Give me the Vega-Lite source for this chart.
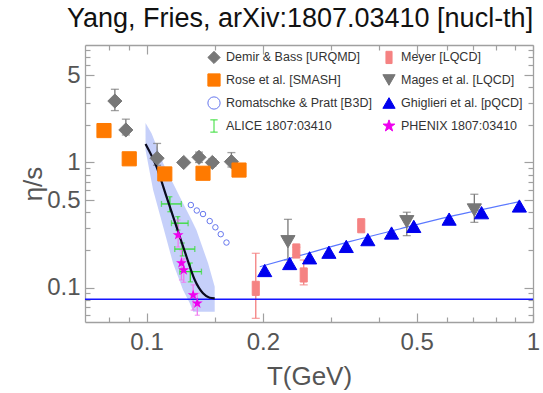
{
  "$schema": "https://vega.github.io/schema/vega-lite/v6.json",
  "width": 448,
  "height": 277,
  "autosize": "none",
  "padding": {"left": 85, "top": 45, "right": 10, "bottom": 71},
  "title": {"text": "Yang, Fries, arXiv:1807.03410 [nucl-th]", "fontSize": 27, "font": "Liberation Sans", "fontWeight": "normal", "color": "#111", "offset": 11, "anchor": "middle", "frame": "group", "dx": -9},
  "config": {
    "font": "Liberation Sans",
    "view": {"stroke": null},
    "axis": {"grid": false, "domainColor": "#A0A0A0", "tickColor": "#A0A0A0", "domainWidth": 1.3, "tickWidth": 1.2, "labelColor": "#555", "titleColor": "#555", "labelFontSize": 24, "titleFontSize": 26, "titleFontWeight": "normal", "labelFont": "Liberation Sans", "titleFont": "Liberation Sans", "labelFlush": false, "labelOverlap": false},
    "legend": {"orient": "none", "legendX": 122, "legendY": 5, "columns": 2, "labelFont": "Liberation Sans", "labelFontSize": 12.5, "labelColor": "#333", "rowPadding": 5, "columnPadding": 8, "symbolStrokeWidth": 1, "labelOffset": 5, "symbolSize": 150}
  },
  "datasets": {
    "pts": [
      {"series": "Demir & Bass [URQMD]", "T": 0.0828, "v": 3.1, "lo": 2.6, "hi": 3.85},
      {"series": "Demir & Bass [URQMD]", "T": 0.0884, "v": 1.82, "lo": 1.66, "hi": 2.22},
      {"series": "Demir & Bass [URQMD]", "T": 0.1065, "v": 1.08, "lo": 0.95, "hi": 1.42},
      {"series": "Demir & Bass [URQMD]", "T": 0.1248, "v": 1.0},
      {"series": "Demir & Bass [URQMD]", "T": 0.1367, "v": 1.1, "lo": 1.0, "hi": 1.21},
      {"series": "Demir & Bass [URQMD]", "T": 0.148, "v": 1.0, "lo": 0.93, "hi": 1.07},
      {"series": "Demir & Bass [URQMD]", "T": 0.1658, "v": 1.015, "lo": 0.92, "hi": 1.2},
      {"series": "Rose et al. [SMASH]", "T": 0.0776, "v": 1.8},
      {"series": "Rose et al. [SMASH]", "T": 0.0902, "v": 1.07},
      {"series": "Rose et al. [SMASH]", "T": 0.1115, "v": 0.81},
      {"series": "Rose et al. [SMASH]", "T": 0.14, "v": 0.82},
      {"series": "Rose et al. [SMASH]", "T": 0.1735, "v": 0.87},
      {"series": "Romatschke & Pratt [B3D]", "T": 0.1302, "v": 0.457},
      {"series": "Romatschke & Pratt [B3D]", "T": 0.1349, "v": 0.413},
      {"series": "Romatschke & Pratt [B3D]", "T": 0.14, "v": 0.387},
      {"series": "Romatschke & Pratt [B3D]", "T": 0.1457, "v": 0.34},
      {"series": "Romatschke & Pratt [B3D]", "T": 0.1507, "v": 0.303},
      {"series": "Romatschke & Pratt [B3D]", "T": 0.1556, "v": 0.267},
      {"series": "Romatschke & Pratt [B3D]", "T": 0.161, "v": 0.229},
      {"series": "ALICE 1807:03410", "T": 0.1149, "v": 0.466, "xlo": 0.1093, "xhi": 0.123, "lo": 0.404, "hi": 0.532},
      {"series": "ALICE 1807:03410", "T": 0.1205, "v": 0.327, "xlo": 0.116, "xhi": 0.1281, "lo": 0.288, "hi": 0.369},
      {"series": "ALICE 1807:03410", "T": 0.1237, "v": 0.203, "xlo": 0.1183, "xhi": 0.1333, "lo": 0.179, "hi": 0.227},
      {"series": "ALICE 1807:03410", "T": 0.1298, "v": 0.134, "xlo": 0.1219, "xhi": 0.1387, "lo": 0.111, "hi": 0.157},
      {"series": "PHENIX 1807:03410", "T": 0.1207, "v": 0.263, "lo": 0.211, "hi": 0.347},
      {"series": "PHENIX 1807:03410", "T": 0.1231, "v": 0.157, "lo": 0.115, "hi": 0.2},
      {"series": "PHENIX 1807:03410", "T": 0.1248, "v": 0.138, "lo": 0.11, "hi": 0.17},
      {"series": "PHENIX 1807:03410", "T": 0.132, "v": 0.087, "lo": 0.066, "hi": 0.105},
      {"series": "PHENIX 1807:03410", "T": 0.1353, "v": 0.0748, "lo": 0.06, "hi": 0.09},
      {"series": "Meyer [LQCD]", "T": 0.1917, "v": 0.0985, "lo": 0.0567, "hi": 0.1878},
      {"series": "Meyer [LQCD]", "T": 0.2441, "v": 0.196, "lo": 0.183, "hi": 0.21},
      {"series": "Meyer [LQCD]", "T": 0.2551, "v": 0.126, "lo": 0.105, "hi": 0.166},
      {"series": "Meyer [LQCD]", "T": 0.3594, "v": 0.312},
      {"series": "Mages et al. [LQCD]", "T": 0.2322, "v": 0.2325, "lo": 0.166, "hi": 0.351},
      {"series": "Mages et al. [LQCD]", "T": 0.4714, "v": 0.336, "lo": 0.26, "hi": 0.4},
      {"series": "Mages et al. [LQCD]", "T": 0.705, "v": 0.417, "lo": 0.332, "hi": 0.557},
      {"series": "Ghiglieri et al. [pQCD]", "T": 0.2022, "v": 0.1368},
      {"series": "Ghiglieri et al. [pQCD]", "T": 0.2346, "v": 0.1556},
      {"series": "Ghiglieri et al. [pQCD]", "T": 0.2642, "v": 0.1728},
      {"series": "Ghiglieri et al. [pQCD]", "T": 0.2964, "v": 0.1916},
      {"series": "Ghiglieri et al. [pQCD]", "T": 0.3287, "v": 0.2132},
      {"series": "Ghiglieri et al. [pQCD]", "T": 0.3738, "v": 0.2416},
      {"series": "Ghiglieri et al. [pQCD]", "T": 0.4305, "v": 0.2729},
      {"series": "Ghiglieri et al. [pQCD]", "T": 0.4915, "v": 0.3082},
      {"series": "Ghiglieri et al. [pQCD]", "T": 0.6067, "v": 0.3525},
      {"series": "Ghiglieri et al. [pQCD]", "T": 0.736, "v": 0.3967},
      {"series": "Ghiglieri et al. [pQCD]", "T": 0.922, "v": 0.4487}
    ],
    "fit": [
      {"T": 0.0994, "v": 1.406}, {"T": 0.1061, "v": 0.926}, {"T": 0.1126, "v": 0.533},
      {"T": 0.1195, "v": 0.3065}, {"T": 0.1269, "v": 0.1763}, {"T": 0.1333, "v": 0.1148},
      {"T": 0.14, "v": 0.0899}, {"T": 0.1457, "v": 0.0829}, {"T": 0.1501, "v": 0.082}
    ],
    "gline": [
      {"T": 0.1963, "v": 0.1467}, {"T": 0.2489, "v": 0.18}, {"T": 0.3352, "v": 0.2325},
      {"T": 0.4513, "v": 0.2938}, {"T": 0.6078, "v": 0.3686}, {"T": 0.922, "v": 0.486}
    ],
    "band": [
      {"T": 0.0994, "up": 2.07, "low": 1.259}, {"T": 0.103, "up": 1.712, "low": 0.703},
      {"T": 0.104, "up": 1.588, "low": 0.603}, {"T": 0.1104, "up": 0.985, "low": 0.3065},
      {"T": 0.1171, "up": 0.682, "low": 0.1562}, {"T": 0.1219, "up": 0.533, "low": 0.1123},
      {"T": 0.1243, "up": 0.4717, "low": 0.0955}, {"T": 0.1294, "up": 0.369, "low": 0.0747},
      {"T": 0.132, "up": 0.327, "low": 0.064}, {"T": 0.1346, "up": 0.2884, "low": 0.064},
      {"T": 0.1443, "up": 0.1562, "low": 0.064}, {"T": 0.1501, "up": 0.1015, "low": 0.064}
    ],
    "anchor": [{"T": 0.5, "v": 1}]
  },
  "resolve": {"axis": {"x": "independent", "y": "independent"}},
  "layer": [
    {
      "data": {"name": "band"},
      "mark": {"type": "area", "color": "#3355EE", "opacity": 0.28},
      "encoding": {
        "x": {"field": "T", "type": "quantitative", "scale": {"type": "log", "domain": [0.0693, 1.0], "nice": false},
          "axis": {"orient": "bottom", "title": "T(GeV)", "values": [0.1, 0.2, 0.5, 1], "format": "~g", "tickSize": -9, "labelPadding": 17, "titlePadding": 9}},
        "y": {"field": "up", "type": "quantitative", "scale": {"type": "log", "domain": [0.053, 8.7], "nice": false},
          "axis": {"orient": "left", "title": "η/s", "values": [0.1, 0.5, 1, 5], "format": "~g", "tickSize": -9, "labelPadding": 14, "titlePadding": 0}},
        "y2": {"field": "low"}
      }
    },
    {
      "data": {"name": "pts"},
      "transform": [{"filter": "isValid(datum.lo)"}],
      "mark": {"type": "rule", "strokeWidth": 1.3},
      "encoding": {
        "x": {"field": "T", "type": "quantitative", "axis": null},
        "y": {"field": "lo", "type": "quantitative", "axis": null},
        "y2": {"field": "hi"},
        "color": {"field": "series", "type": "nominal", "legend": null,
          "scale": {"domain": ["Demir & Bass [URQMD]", "Meyer [LQCD]", "Mages et al. [LQCD]", "ALICE 1807:03410", "PHENIX 1807:03410"],
            "range": ["#777777", "#F47E7E", "#777777", "#33DD33", "#F07AF0"]}}
      }
    },
    {
      "data": {"name": "pts"},
      "transform": [{"filter": "(datum.series === 'Demir & Bass [URQMD]' || datum.series === 'Meyer [LQCD]' || datum.series === 'Mages et al. [LQCD]') && isValid(datum.lo)"}, {"fold": ["lo", "hi"], "as": ["end", "cv"]}],
      "mark": {"type": "tick", "orient": "horizontal", "size": 8, "thickness": 1.3},
      "encoding": {
        "x": {"field": "T", "type": "quantitative", "axis": null},
        "y": {"field": "cv", "type": "quantitative", "axis": null},
        "color": {"field": "series", "type": "nominal", "legend": null}
      }
    },
    {
      "data": {"name": "pts"},
      "transform": [{"filter": "datum.series === 'ALICE 1807:03410' || datum.series === 'PHENIX 1807:03410'"}, {"fold": ["lo", "hi"], "as": ["end", "cv"]}],
      "mark": {"type": "tick", "orient": "horizontal", "size": 5, "thickness": 1.3},
      "encoding": {
        "x": {"field": "T", "type": "quantitative", "axis": null},
        "y": {"field": "cv", "type": "quantitative", "axis": null},
        "color": {"field": "series", "type": "nominal", "legend": null}
      }
    },
    {
      "data": {"name": "pts"},
      "transform": [{"filter": "datum.series === 'ALICE 1807:03410'"}],
      "mark": {"type": "rule", "strokeWidth": 1.3},
      "encoding": {
        "x": {"field": "xlo", "type": "quantitative", "axis": null},
        "x2": {"field": "xhi"},
        "y": {"field": "v", "type": "quantitative", "axis": null},
        "color": {"field": "series", "type": "nominal", "legend": null}
      }
    },
    {
      "data": {"name": "pts"},
      "transform": [{"filter": "datum.series === 'ALICE 1807:03410'"}, {"fold": ["xlo", "xhi"], "as": ["end", "cx"]}],
      "mark": {"type": "tick", "orient": "vertical", "size": 6, "thickness": 1.3},
      "encoding": {
        "x": {"field": "cx", "type": "quantitative", "axis": null},
        "y": {"field": "v", "type": "quantitative", "axis": null},
        "color": {"field": "series", "type": "nominal", "legend": null}
      }
    },
    {
      "data": {"name": "anchor"},
      "mark": {"type": "rule", "color": "#1414FF", "strokeWidth": 1.6},
      "encoding": {
        "y": {"datum": 0.0805, "type": "quantitative", "axis": null}
      }
    },
    {
      "data": {"name": "gline"},
      "mark": {"type": "line", "color": "#5A78FF", "strokeWidth": 1.2, "interpolate": "monotone"},
      "encoding": {
        "x": {"field": "T", "type": "quantitative", "axis": null},
        "y": {"field": "v", "type": "quantitative", "axis": null}
      }
    },
    {
      "data": {"name": "fit"},
      "mark": {"type": "line", "color": "#0A0A1E", "strokeWidth": 2.2, "interpolate": "monotone"},
      "encoding": {
        "x": {"field": "T", "type": "quantitative", "axis": null},
        "y": {"field": "v", "type": "quantitative", "axis": null}
      }
    },
    {
      "data": {"name": "pts"},
      "transform": [{"filter": "datum.series === 'Romatschke & Pratt [B3D]'"}],
      "mark": {"type": "point", "shape": "circle", "filled": false, "color": "#6677EE", "size": 30, "strokeWidth": 1, "opacity": 1},
      "encoding": {
        "x": {"field": "T", "type": "quantitative", "axis": null},
        "y": {"field": "v", "type": "quantitative", "axis": null}
      }
    },
    {
      "data": {"name": "pts"},
      "transform": [{"filter": "datum.series === 'PHENIX 1807:03410'"}],
      "mark": {"type": "point", "shape": "M0,-1L0.235,-0.324L0.951,-0.309L0.38,0.124L0.588,0.809L0,0.4L-0.588,0.809L-0.38,0.124L-0.951,-0.309L-0.235,-0.324Z", "filled": true, "color": "#EE00EE", "size": 130, "opacity": 1},
      "encoding": {
        "x": {"field": "T", "type": "quantitative", "axis": null},
        "y": {"field": "v", "type": "quantitative", "axis": null}
      }
    },
    {
      "data": {"name": "pts"},
      "transform": [{"filter": "datum.series !== 'ALICE 1807:03410' && datum.series !== 'PHENIX 1807:03410' && datum.series !== 'Romatschke & Pratt [B3D]'"}],
      "mark": {"type": "point", "strokeWidth": 1, "opacity": 1, "size": 200},
      "encoding": {
        "x": {"field": "T", "type": "quantitative", "axis": null},
        "y": {"field": "v", "type": "quantitative", "axis": null},
        "shape": {"field": "series", "type": "nominal", "legend": {"title": null},
          "scale": {"domain": ["Demir & Bass [URQMD]", "Rose et al. [SMASH]", "Romatschke & Pratt [B3D]", "ALICE 1807:03410", "Meyer [LQCD]", "Mages et al. [LQCD]", "Ghiglieri et al. [pQCD]", "PHENIX 1807:03410"],
            "range": ["diamond", "square", "circle", "M-0.6,-1L0.6,-1M0,-1L0,1M-0.6,1L0.6,1", "M-0.5,-1L0.5,-1L0.5,1L-0.5,1Z", "triangle-down", "triangle-up", "M0,-1L0.235,-0.324L0.951,-0.309L0.38,0.124L0.588,0.809L0,0.4L-0.588,0.809L-0.38,0.124L-0.951,-0.309L-0.235,-0.324Z"]}},
        "fill": {"field": "series", "type": "nominal", "legend": {"title": null},
          "scale": {"domain": ["Demir & Bass [URQMD]", "Rose et al. [SMASH]", "Romatschke & Pratt [B3D]", "ALICE 1807:03410", "Meyer [LQCD]", "Mages et al. [LQCD]", "Ghiglieri et al. [pQCD]", "PHENIX 1807:03410"],
            "range": ["#777777", "#FF7A00", "transparent", "transparent", "#F58282", "#777777", "#0000EE", "#EE00EE"]}},
        "stroke": {"field": "series", "type": "nominal", "legend": {"title": null},
          "scale": {"domain": ["Demir & Bass [URQMD]", "Rose et al. [SMASH]", "Romatschke & Pratt [B3D]", "ALICE 1807:03410", "Meyer [LQCD]", "Mages et al. [LQCD]", "Ghiglieri et al. [pQCD]", "PHENIX 1807:03410"],
            "range": ["#777777", "#FF7A00", "#6677EE", "#33DD33", "#F58282", "#777777", "#0000EE", "#EE00EE"]}}
      }
    },
    {
      "data": {"name": "anchor"},
      "mark": {"type": "point", "opacity": 0},
      "encoding": {
        "x": {"field": "T", "type": "quantitative",
          "axis": {"orient": "bottom", "title": null, "labels": false, "domain": false, "values": [0.08, 0.09, 0.15, 0.3, 0.4, 0.6, 0.7, 0.8, 0.9], "tickSize": -5}},
        "y": {"field": "v", "type": "quantitative",
          "axis": {"orient": "left", "title": null, "labels": false, "domain": false, "values": [0.06, 0.07, 0.08, 0.09, 0.2, 0.3, 0.4, 0.6, 0.7, 0.8, 0.9, 2, 3, 4, 6, 7, 8], "tickSize": -5}}
      }
    },
    {
      "data": {"name": "anchor"},
      "mark": {"type": "point", "opacity": 0},
      "encoding": {
        "x": {"field": "T", "type": "quantitative",
          "axis": {"orient": "top", "title": null, "labels": false, "values": [0.1, 0.2, 0.5, 1], "tickSize": -9}},
        "y": {"field": "v", "type": "quantitative",
          "axis": {"orient": "right", "title": null, "labels": false, "values": [0.1, 0.5, 1, 5], "tickSize": -9}}
      }
    },
    {
      "data": {"name": "anchor"},
      "mark": {"type": "point", "opacity": 0},
      "encoding": {
        "x": {"field": "T", "type": "quantitative",
          "axis": {"orient": "top", "title": null, "labels": false, "domain": false, "values": [0.08, 0.09, 0.15, 0.3, 0.4, 0.6, 0.7, 0.8, 0.9], "tickSize": -5}},
        "y": {"field": "v", "type": "quantitative",
          "axis": {"orient": "right", "title": null, "labels": false, "domain": false, "values": [0.06, 0.07, 0.08, 0.09, 0.2, 0.3, 0.4, 0.6, 0.7, 0.8, 0.9, 2, 3, 4, 6, 7, 8], "tickSize": -5}}
      }
    }
  ]
}
